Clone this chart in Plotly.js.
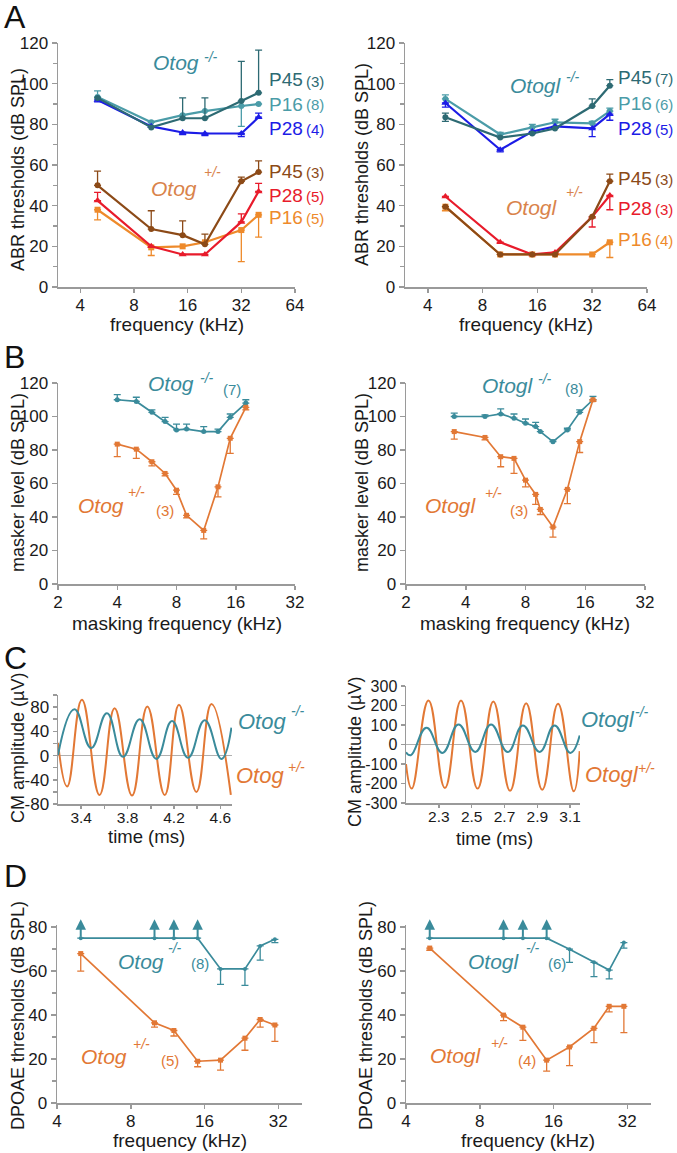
<!DOCTYPE html>
<html>
<head>
<meta charset="utf-8">
<script src="https://cdn.plot.ly/plotly-3.0.1.min.js"></script>
<style>
  body { margin: 0; background: #fff; }
  #chart { width: 677px; height: 1153px; }
</style>
</head>
<body>
<div id="chart"></div>
<script>
/* ---------------- data ---------------- */

// A : ABR thresholds
var abrFreq = [5, 10, 15, 20, 32, 40];
var abrTicks = [4, 8, 16, 32, 64];

var otogKoP45 = [93, 78.5, 83, 83, 91.5, 95.5];
var otogKoP45Up = [0, 0, 10, 10, 19.5, 21];
var otogKoP45Down = [0, 0, 0, 0, 0, 0];
var otogKoP16 = [93.5, 81, 84.5, 86.5, 89, 90];
var otogKoP16Up = [3, 0, 0, 0, 0, 0];
var otogKoP16Down = [0, 0, 0, 0, 10, 0];
var otogKoP28 = [92, 79, 76, 75.5, 75.5, 83.5];
var otogKoP28Up = [0, 0, 0, 0, 0, 2];
var otogKoP28Down = [1, 0, 1, 1, 1.5, 0];

var otogHetP45 = [50, 28.5, 25.5, 21, 52, 56.5];
var otogHetP45Up = [7, 9, 7, 5, 2, 5.5];
var otogHetP28 = [42.5, 20, 16, 16, 32, 47];
var otogHetP28Up = [4, 0, 0, 0, 4, 4];
var otogHetP16 = [38, 19.5, 20, 22, 28, 35.5];
var otogHetP16Down = [5, 4, 0, 0, 15.5, 11];

var otoglKoP45 = [83.5, 73.5, 75.5, 78, 89, 99];
var otoglKoP45Up = [2, 0, 0, 0, 3.5, 3];
var otoglKoP45Down = [2, 0, 0, 0, 0, 0];
var otoglKoP16 = [92.5, 75, 78.5, 81, 80.5, 86.5];
var otoglKoP16Up = [2, 1, 1.5, 1.5, 1, 1.5];
var otoglKoP28 = [90.5, 67.5, 76.5, 79, 78, 85];
var otoglKoP28Down = [2, 1, 1, 1, 4, 3];

var otoglHetP45 = [39.5, 16, 16, 16, 34.5, 52];
var otoglHetP45Up = [0, 0, 0, 0, 0, 3.5];
var otoglHetP28 = [44.5, 22, 16, 17, 34.5, 45];
var otoglHetP28Down = [0, 0, 0, 0, 5, 7];
var otoglHetP16 = [39.5, 16, 16, 16, 16, 22];
var otoglHetP16Down = [2, 0, 0, 0, 0, 7.5];

// B : masking tuning curves
var maskTicks = [2, 4, 8, 16, 32];
var otogMaskFreq = [4, 5, 6, 7, 8, 9, 11, 13, 15, 18];
var otogKoMask = [110, 109, 102.5, 97, 92, 92.5, 91, 91, 99.5, 108];
var otogKoMaskUp = [3, 2.5, 1.5, 2.5, 3.5, 3, 3, 1.5, 2, 2];
var otogHetMask = [83.5, 80.5, 73, 66, 56, 41, 32, 58, 87, 105.5];
var otogHetMaskDown = [7.5, 5.5, 2.5, 1.5, 2.5, 1.5, 5, 6, 9, 1.5];

var otoglMaskFreq = [3.5, 5, 6, 7, 8, 9, 9.5, 11, 13, 15, 17.5];
var otoglKoMask = [100, 100, 101.5, 99, 96, 94, 91, 85, 92, 102.5, 110];
var otoglKoMaskUp = [2, 1, 3, 2.5, 2.5, 2.5, 0, 1, 1, 1.5, 2];
var otoglHetMask = [91, 87.5, 76, 75, 62, 53.5, 44.5, 34, 56.5, 85, 110];
var otoglHetMaskDown = [4.5, 1.5, 6, 9, 4, 6, 3, 6, 8.5, 6.5, 1];

// C : cochlear microphonics (peaks and troughs of the traces)
var otogCmTimeHet = [3.2, 3.279, 3.406, 3.558, 3.688, 3.838, 3.970, 4.120, 4.243, 4.393, 4.523, 4.690];
var otogCmHet = [21, -51, 92, -65, 78, -66, 81, -65, 84, -60, 85, -65];
var otogCmTimeKo = [3.2, 3.342, 3.486, 3.622, 3.760, 3.904, 4.048, 4.183, 4.321, 4.465, 4.609, 4.695];
var otogCmKo = [1, 76.5, 12.5, 70, -2, 60, -5.5, 57, -3.5, 58.5, -5.5, 46];
var otogCmTicks = [3.4, 3.6, 3.8, 4.0, 4.2, 4.4, 4.6];
var otogCmTickText = ['3.4', '', '3.8', '', '4.2', '', '4.6'];
var otogCmAmpTicks = [-80, -60, -40, -20, 0, 20, 40, 60, 80, 100];
var otogCmAmpText = ['-80', '', '-40', '', '0', '', '40', '', '80', ''];

var otoglCmTimeHet = [2.1, 2.135, 2.237, 2.337, 2.435, 2.536, 2.632, 2.734, 2.832, 2.930, 3.026, 3.122, 3.158];
var otoglCmHet = [-100, -226, 226, -223, 226, -226, 220, -237, 211, -232, 209, -240, -34];
var otoglCmTimeKo = [2.1, 2.129, 2.225, 2.322, 2.420, 2.522, 2.618, 2.720, 2.812, 2.914, 3.005, 3.101, 3.158];
var otoglCmKo = [-40, -55, 86, -43, 103, -38, 103, -39, 98, -38, 98, -43, 46];
var otoglCmTicks = [2.3, 2.5, 2.7, 2.9, 3.1];
var otoglCmAmpTicks = [-300, -200, -100, 0, 100, 200, 300];
var otoglCmAmpText = ['-300', '-200', '-100', '0', '100', '200', '300'];

// D : DPOAE thresholds
var dpFreq = [5, 10, 12, 15, 18.6, 23.4, 27, 31];
var dpTicks = [4, 8, 16, 32];
var otogKoDp = [75, 75, 75, 75, 61, 61, 71.5, 74.5];
var otogKoDpDown = [0, 0, 0, 0, 7, 7.5, 6.5, 1.5];
var otogKoDpAbove = [true, true, true, true, false, false, false, false];
var otogHetDp = [68, 36.5, 33, 19, 19.5, 29.5, 38, 35.5];
var otogHetDpDown = [8, 2, 2.5, 2.5, 4.5, 5.5, 3.5, 7.5];

var otoglKoDp = [75, 75, 75, 75, 70, 64, 60.5, 73];
var otoglKoDpDown = [0, 0, 0, 0, 6, 6.5, 4, 2.5];
var otoglKoDpAbove = [true, true, true, true, false, false, false, false];
var otoglHetDp = [70.5, 40, 34.5, 19.5, 25.5, 34, 44, 44];
var otoglHetDpDown = [1, 2.5, 6, 5, 8.5, 6.5, 2.5, 12];

/* ---------------- styling ---------------- */
var W = 677, H = 1153;
var FONT = 'Liberation Sans, Arial, Helvetica, sans-serif';
var AXC = '#9a9a9a';
var TXT = '#1a1a1a';
var TEAL = '#3a8b9b';
var ORANGE = '#e27835';
var KO_P45 = '#2d6a73', KO_P16 = '#4b9ca8', KO_P28 = '#1c1ce6';
var HET_P45 = '#8c4a17', HET_P28 = '#e81b2b', HET_P16 = '#ee8a2b';
var HET_LABEL = '#d9834b';

function px(x) { return x / W; }
function py(y) { return 1 - y / H; }
function zeros(n) { var a = []; for (var i = 0; i < n; i++) a.push(0); return a; }

function series(x, y, up, down, color, symbol, size, ax, width) {
  return {
    x: x, y: y, type: 'scatter', mode: 'lines+markers',
    xaxis: 'x' + ax, yaxis: 'y' + ax,
    line: {color: color, width: width || 2.2},
    marker: {color: color, symbol: symbol, size: size},
    error_y: {type: 'data', symmetric: false, array: up || zeros(x.length),
              arrayminus: down || zeros(x.length), color: color, thickness: 1.3, width: 3.5},
    hoverinfo: 'skip'
  };
}

function wave(x, y, color, ax) {
  return {
    x: x, y: y, type: 'scatter', mode: 'lines', xaxis: 'x' + ax, yaxis: 'y' + ax,
    line: {color: color, width: 2, shape: 'spline', smoothing: 1.3}, hoverinfo: 'skip'
  };
}

var data = [
  // A left
  series(abrFreq, otogKoP16, otogKoP16Up, otogKoP16Down, KO_P16, 'circle', 6, ''),
  series(abrFreq, otogKoP28, otogKoP28Up, otogKoP28Down, KO_P28, 'triangle-up', 7, ''),
  series(abrFreq, otogKoP45, otogKoP45Up, otogKoP45Down, KO_P45, 'circle', 6, ''),
  series(abrFreq, otogHetP16, null, otogHetP16Down, HET_P16, 'square', 6, ''),
  series(abrFreq, otogHetP28, otogHetP28Up, null, HET_P28, 'triangle-up', 7, ''),
  series(abrFreq, otogHetP45, otogHetP45Up, null, HET_P45, 'circle', 6, ''),
  // A right
  series(abrFreq, otoglKoP16, otoglKoP16Up, null, KO_P16, 'circle', 6, '2'),
  series(abrFreq, otoglKoP28, null, otoglKoP28Down, KO_P28, 'triangle-up', 7, '2'),
  series(abrFreq, otoglKoP45, otoglKoP45Up, otoglKoP45Down, KO_P45, 'circle', 6, '2'),
  series(abrFreq, otoglHetP16, null, otoglHetP16Down, HET_P16, 'square', 6, '2'),
  series(abrFreq, otoglHetP28, null, otoglHetP28Down, HET_P28, 'triangle-up', 7, '2'),
  series(abrFreq, otoglHetP45, otoglHetP45Up, null, HET_P45, 'circle', 6, '2'),
  // B
  series(otogMaskFreq, otogKoMask, otogKoMaskUp, null, TEAL, 'circle', 5, '3', 1.7),
  series(otogMaskFreq, otogHetMask, null, otogHetMaskDown, ORANGE, 'square', 5, '3', 1.7),
  series(otoglMaskFreq, otoglKoMask, otoglKoMaskUp, null, TEAL, 'circle', 5, '4', 1.7),
  series(otoglMaskFreq, otoglHetMask, null, otoglHetMaskDown, ORANGE, 'square', 5, '4', 1.7),
  // C
  wave(otogCmTimeHet, otogCmHet, ORANGE, '5'),
  wave(otogCmTimeKo, otogCmKo, TEAL, '5'),
  wave(otoglCmTimeHet, otoglCmHet, ORANGE, '6'),
  wave(otoglCmTimeKo, otoglCmKo, TEAL, '6'),
  // D
  series(dpFreq, otogKoDp, null, otogKoDpDown, TEAL, 'circle', 4, '7', 1.7),
  series(dpFreq, otogHetDp, null, otogHetDpDown, ORANGE, 'square', 5, '7', 1.7),
  series(dpFreq, otoglKoDp, null, otoglKoDpDown, TEAL, 'circle', 4, '8', 1.7),
  series(dpFreq, otoglHetDp, null, otoglHetDpDown, ORANGE, 'square', 5, '8', 1.7)
];

function axis(o) {
  return Object.assign({
    showgrid: false, zeroline: false, showline: true, linecolor: AXC, linewidth: 1.5,
    ticks: 'outside', ticklen: 5, tickwidth: 1.5, tickcolor: AXC,
    tickfont: {family: FONT, size: 17, color: TXT}, fixedrange: true, automargin: false
  }, o);
}
function logX(x0, x1, lo, hi, ticks, anchor) {
  return axis({domain: [px(x0), px(x1)], anchor: anchor, type: 'log', ticklen: 4,
               ticklabelstandoff: -2,
               range: [Math.log10(lo), Math.log10(hi)],
               tickvals: ticks, ticktext: ticks.map(String)});
}
var minor10 = {dtick: 10, ticks: 'outside', ticklen: 4, tickwidth: 1.5, tickcolor: AXC};
var cmFont = {family: FONT, size: 15.5, color: TXT};

var layout = {
  width: W, height: H, margin: {l: 0, r: 0, t: 0, b: 0},
  paper_bgcolor: '#fff', plot_bgcolor: '#fff', showlegend: false,
  font: {family: FONT, color: TXT},
  // A
  xaxis: logX(58, 295, 3, 64, abrTicks, 'y'),
  yaxis: axis({domain: [py(287), py(43)], anchor: 'x', range: [0, 120], dtick: 20, minor: minor10}),
  xaxis2: logX(405, 647, 3, 64, abrTicks, 'y2'),
  yaxis2: axis({domain: [py(287), py(43)], anchor: 'x2', range: [0, 120], dtick: 20, minor: minor10}),
  // B
  xaxis3: logX(58, 295, 2, 32, maskTicks, 'y3'),
  yaxis3: axis({domain: [py(584), py(383)], anchor: 'x3', range: [0, 120], dtick: 20}),
  xaxis4: logX(406, 645, 2, 32, maskTicks, 'y4'),
  yaxis4: axis({domain: [py(584), py(383)], anchor: 'x4', range: [0, 120], dtick: 20}),
  // C
  xaxis5: axis({domain: [px(58), px(232)], anchor: 'y5', range: [3.2, 4.7], ticklen: 3,
                ticklabelstandoff: -4,
                tickfont: cmFont, tickvals: otogCmTicks, ticktext: otogCmTickText}),
  yaxis5: axis({domain: [py(804), py(695)], anchor: 'x5', range: [-80, 100], ticklen: 4,
                tickfont: {family: FONT, size: 17, color: TXT},
                tickvals: otogCmAmpTicks, ticktext: otogCmAmpText,
                zeroline: true, zerolinecolor: '#b0b0b0', zerolinewidth: 1.5}),
  xaxis6: axis({domain: [px(406), px(580)], anchor: 'y6', range: [2.1, 3.16], ticklen: 3,
                ticklabelstandoff: -4,
                tickfont: cmFont, tickvals: otoglCmTicks, ticktext: otoglCmTicks.map(String)}),
  yaxis6: axis({domain: [py(803), py(686)], anchor: 'x6', range: [-300, 300], ticklen: 4,
                tickfont: {family: FONT, size: 16, color: TXT},
                tickvals: otoglCmAmpTicks, ticktext: otoglCmAmpText,
                zeroline: true, zerolinecolor: '#b0b0b0', zerolinewidth: 1.5}),
  // D
  xaxis7: logX(57, 302, 4, 40, dpTicks, 'y7'),
  yaxis7: axis({domain: [py(1103), py(925)], anchor: 'x7', range: [0, 81], dtick: 20, minor: minor10}),
  xaxis8: logX(406, 651, 4, 40, dpTicks, 'y8'),
  yaxis8: axis({domain: [py(1103), py(925)], anchor: 'x8', range: [0, 81], dtick: 20, minor: minor10})
};

/* ---------------- text ---------------- */
var ann = [];
function label(text, x, y, size, color, extra) {
  ann.push(Object.assign({
    xref: 'paper', yref: 'paper', x: px(x), y: py(y), xanchor: 'left', yanchor: 'middle',
    showarrow: false, borderpad: 0, text: text, font: {family: FONT, size: size, color: color}
  }, extra || {}));
}
function vtitle(text, x, y) {
  label(text, x, y, 18, TXT, {xanchor: 'center', textangle: -90});
}
function htitle(text, x, y, size) {
  label(text, x, y, size || 19, TXT, {xanchor: 'center'});
}
function gene(name, sup, x, y, sx, sy, color, size) {
  label('<i>' + name + '</i>', x, y, size, color);
  label('<i>' + sup + '</i>', sx, sy, 14, color);
}
function age(p, n, x, y, color) {
  label(p, x, y, 19, color);
  label(n, x + 37, y + 1, 15, color);
}

// panel letters
label('A', 3, 17, 32, '#111');
label('B', 3, 357, 32, '#111');
label('C', 3, 658, 32, '#111');
label('D', 3, 876, 32, '#111');

// axis titles
vtitle('ABR thresholds (dB SPL)', 18, 170);
vtitle('ABR thresholds (dB SPL)', 362, 165);
htitle('frequency (kHz)', 177, 324);
htitle('frequency (kHz)', 526, 324);
vtitle('masker level (dB SPL)', 18, 483);
vtitle('masker level (dB SPL)', 362, 483);
htitle('masking frequency (kHz)', 177, 623);
htitle('masking frequency (kHz)', 525, 623);
vtitle('CM amplitude (µV)', 18, 748);
vtitle('CM amplitude (µV)', 355, 752);
htitle('time (ms)', 146, 836, 18.5);
htitle('time (ms)', 494, 838, 18.5);
vtitle('DPOAE thresholds (dB SPL)', 18, 1016);
vtitle('DPOAE thresholds (dB SPL)', 366, 1015);
htitle('frequency (kHz)', 180, 1140);
htitle('frequency (kHz)', 528, 1140);

// A labels
gene('Otog', '-/-', 152, 63, 203, 57, TEAL, 21);
gene('Otog', '+/-', 150, 188, 203, 172, HET_LABEL, 21);
age('P45', '(3)', 268, 80, KO_P45);
age('P16', '(8)', 268, 104, KO_P16);
age('P28', '(4)', 268, 128, KO_P28);
age('P45', '(3)', 268, 171, HET_P45);
age('P28', '(5)', 268, 196, HET_P28);
age('P16', '(5)', 268, 217, HET_P16);

gene('Otogl', '-/-', 509, 85, 565, 77, TEAL, 21);
gene('Otogl', '+/-', 505, 207, 565, 192, HET_LABEL, 21);
age('P45', '(7)', 617, 78, KO_P45);
age('P16', '(6)', 617, 103, KO_P16);
age('P28', '(5)', 617, 128, KO_P28);
age('P45', '(3)', 617, 178, HET_P45);
age('P28', '(3)', 617, 209, HET_P28);
age('P16', '(4)', 617, 240, HET_P16);

// B labels
gene('Otog', '-/-', 147, 383, 199, 378, TEAL, 21);
label('(7)', 222, 390, 15, TEAL);
gene('Otog', '+/-', 77, 505, 127, 492, ORANGE, 21);
label('(3)', 155, 511, 15, ORANGE);
gene('Otogl', '-/-', 481, 385, 537, 379, TEAL, 21);
label('(8)', 564, 389, 15, TEAL);
gene('Otogl', '+/-', 424, 506, 484, 493, ORANGE, 21);
label('(3)', 509, 511, 15, ORANGE);

// C labels
gene('Otog', '-/-', 237, 721, 290, 711, TEAL, 22);
gene('Otog', '+/-', 235, 775, 287, 767, ORANGE, 22);
gene('Otogl', '-/-', 580, 719, 634, 712, TEAL, 22);
gene('Otogl', '+/-', 584, 774, 637, 768, ORANGE, 22);

// D labels
gene('Otog', '-/-', 117, 961, 167, 948, TEAL, 21);
label('(8)', 190, 963, 15, TEAL);
gene('Otog', '+/-', 80, 1056, 132, 1044, ORANGE, 21);
label('(5)', 160, 1060, 15, ORANGE);
gene('Otogl', '-/-', 467, 961, 525, 948, TEAL, 21);
label('(6)', 547, 963, 15, TEAL);
gene('Otogl', '+/-', 429, 1055, 490, 1043, ORANGE, 21);
label('(4)', 517, 1060, 15, ORANGE);

// D arrows: thresholds above the highest level tested
function arrows(freq, vals, above, ax) {
  for (var i = 0; i < freq.length; i++) {
    if (!above[i]) continue;
    ann.push({xref: 'x' + ax, yref: 'y' + ax, x: Math.log10(freq[i]), y: vals[i],
              text: '', showarrow: true, arrowhead: 2, arrowsize: 1.05, arrowwidth: 2,
              arrowcolor: TEAL, ax: 0, ay: 19, yshift: 19, standoff: 0, startstandoff: 0});
  }
}
arrows(dpFreq, otogKoDp, otogKoDpAbove, '7');
arrows(dpFreq, otoglKoDp, otoglKoDpAbove, '8');

layout.annotations = ann;

Plotly.newPlot('chart', data, layout, {staticPlot: true, responsive: false});
</script>
</body>
</html>
